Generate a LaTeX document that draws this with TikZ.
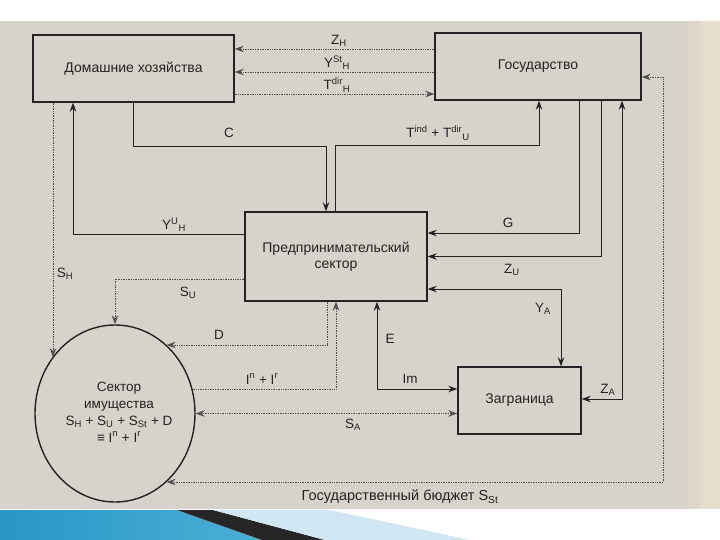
\documentclass[tikz,border=0pt]{standalone}
\usepackage{fontspec}
\setmainfont{Liberation Sans}
\usetikzlibrary{arrows.meta,shapes.geometric,calc}
\definecolor{bg}{RGB}{214,211,202}
\definecolor{bgmid}{RGB}{222,216,203}
\definecolor{ink}{RGB}{35,35,35}
\definecolor{dotc}{RGB}{80,80,80}
\definecolor{bluestrip}{RGB}{40,150,198}
\definecolor{bluestripb}{RGB}{75,175,215}
\definecolor{lightblue}{RGB}{208,230,242}
\definecolor{beige}{RGB}{230,222,204}
\begin{document}
\begin{tikzpicture}[x=1pt,y=-1pt,
  >={Stealth[length=9pt,width=6.5pt]},
  box/.style={draw=ink,line width=1.4pt,inner sep=0pt,text=ink,font=\fontsize{14}{16}\selectfont,align=center},
  conn/.style={draw=ink,line width=0.9pt},
  dotl/.style={draw=dotc,line width=0.9pt,dash pattern=on 1pt off 0.7pt},
  lbl/.style={text=ink,inner sep=0pt,font=\fontsize{13.5}{15}\selectfont}]
% background
\useasboundingbox (0,0) rectangle (720,540);
\fill[white] (0,0) rectangle (720,540);
\fill[bg] (0,21) rectangle (720,509);
\fill[bgmid] (688,21) rectangle (720,509);
\fill[beige] (700,21) rectangle (720,509);
\shade[left color=bluestrip,right color=bluestripb] (0,510) -- (177,510) -- (262,540) -- (0,540) -- cycle;
\fill[black!85] (177,510) -- (213,510) -- (325,540) -- (262,540) -- cycle;
\fill[lightblue] (213,510) -- (330,510) -- (470,540) -- (325,540) -- cycle;

% nodes
\node[box,minimum width=201pt,minimum height=67pt] (hh) at (133.5,68.5) {Домашние хозяйства};
\node[box,minimum width=206pt,minimum height=67pt] (gov) at (538,66.5) {Государство};
\node[box,minimum width=182pt,minimum height=89pt] (pred) at (336,256.5) {Предпринимательский\\сектор};
\node[box,minimum width=123pt,minimum height=67pt] (abr) at (519.5,400.5) {Заграница};
\node[draw=ink,line width=1.4pt,ellipse,minimum width=160pt,minimum height=177pt,inner sep=0pt] (circ) at (115,413.5) {};
\node[text=ink,align=center,inner sep=0pt,font=\fontsize{13.5}{17}\selectfont] (circtext) at (119,412)
  {Сектор\\имущества\\S\textsubscript{H} + S\textsubscript{U} + S\textsubscript{St} + D\\≡ I\textsuperscript{n} + I\textsuperscript{r}};

% coordinates
\coordinate (yZH) at (0,49);
\coordinate (ySt) at (0,72);
\coordinate (yTd) at (0,94);
\coordinate (c1) at (133,146);
\coordinate (c2) at (326,146);
\coordinate (t1) at (335,145);
\coordinate (t2) at (539,145);
\coordinate (yu) at (73,234);
\coordinate (xSH) at (53,0);
\coordinate (ySU) at (0,279);
\coordinate (xD) at (327,0);
\coordinate (xE) at (377,389);
\coordinate (g1) at (579,233);
\coordinate (zu) at (601,0);
\coordinate (ya) at (561,289);
\coordinate (za) at (622,399);
\coordinate (b1) at (663,77);

% connectors between households and state
\draw[dotl,->] (gov.west |- yZH) -- (hh.east |- yZH);
\draw[dotl,->] (gov.west |- ySt) -- (hh.east |- ySt);
\draw[dotl,->] (hh.east |- yTd) -- (gov.west |- yTd);
% C
\draw[conn,->] (hh.south -| c1) -- (c1) -- (c2) -- (pred.north -| c2);
% T
\draw[conn,->] (pred.north -| t1) -- (t1) -- (t2) -- (gov.south -| t2);
% Y^U_H
\draw[conn,->] (pred.west |- yu) -| (hh.south -| yu);
% S_H
\draw[dotl,->] (hh.south -| xSH) -- (xSH |- circ.138);
% S_U
\draw[dotl,->] (pred.west |- ySU) -| (circ.north);
% D
\draw[dotl,->] (pred.south -| xD) |- (circ.53);
% I
\draw[dotl,->] (circ.17) -| (pred.south);
% E / Im
\draw[conn,<->] (pred.south -| xE) |- (abr.west |- xE);
% S_A
\draw[dotl,<->] (circ.east) -- (abr.west |- circ.east);
% G
\draw[conn,->] (gov.south -| g1) |- (pred.east |- g1);
% Z_U
\draw[conn,->] (gov.south -| zu) |- (pred.east);
% Y_A
\draw[conn,<->] (pred.east |- ya) -| (abr.north -| ya);
% Z_A
\draw[conn,<->] (abr.east |- za) -| (gov.south -| za);
% budget
\draw[dotl,<->] (circ.-53) -| (b1) -- (gov.east |- b1);

% labels
\node[lbl] (lZH) at (339,41) {Z\textsubscript{H}};
\node[lbl] (lSt) at (337,63) {Y\textsuperscript{St}\textsubscript{H}};
\node[lbl] (lTd) at (337,85) {T\textsuperscript{dir}\textsubscript{H}};
\node[lbl] (lC) at (229,133) {C};
\node[lbl] (lT) at (438,133) {T\textsuperscript{ind} + T\textsuperscript{dir}\textsubscript{U}};
\node[lbl] (lYU) at (174,225) {Y\textsuperscript{U}\textsubscript{H}};
\node[lbl] (lSH) at (65,274) {S\textsubscript{H}};
\node[lbl] (lSU) at (188,293) {S\textsubscript{U}};
\node[lbl] (lD) at (219,335) {D};
\node[lbl] (lI) at (262,379) {I\textsuperscript{n} + I\textsuperscript{r}};
\node[lbl] (lE) at (390,339) {E};
\node[lbl] (lIm) at (410,379) {Im};
\node[lbl] (lSA) at (353,425) {S\textsubscript{A}};
\node[lbl] (lG) at (508,223) {G};
\node[lbl] (lZU) at (512,270) {Z\textsubscript{U}};
\node[lbl] (lYA) at (543,309) {Y\textsubscript{A}};
\node[lbl] (lZA) at (608,390) {Z\textsubscript{A}};
\node[lbl,font=\fontsize{14.5}{16}\selectfont] (lB) at (400,497) {Государственный бюджет S\textsubscript{St}};
\end{tikzpicture}
\end{document}
